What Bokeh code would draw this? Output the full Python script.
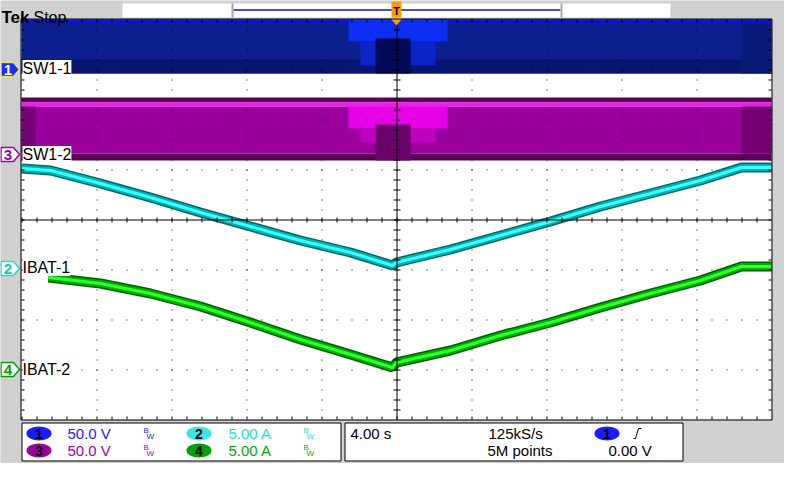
from bokeh.plotting import figure
from bokeh.models import Range1d, Label
from bokeh.embed import file_html
from bokeh.resources import INLINE

# ---------------- scope settings ----------------
SEC_PER_DIV = 4.0
CH1_V_PER_DIV = 50.0
CH2_A_PER_DIV = 5.0
CH3_V_PER_DIV = 50.0
CH4_A_PER_DIV = 5.0
ch1_pos = 3.0      # channel ground markers, divisions from centre
ch2_pos = -1.0
ch3_pos = 1.3
ch4_pos = -3.0
channel_labels = ["SW1-1", "IBAT-1", "SW1-2", "IBAT-2"]

# ---------------- data ----------------
# IBAT-1 (ch2), seconds / amps
ibat1_t = [-20.0, -18.45, -15.79, -13.12, -10.45, -7.79, -5.12, -2.45, -0.21,
           0.0, 2.88, 5.55, 8.21, 10.88, 13.55, 16.21, 18.4, 20.0]
ibat1_a = [10.1, 9.9, 8.6, 7.2, 5.7, 4.3, 2.9, 1.7, 0.4,
           0.7, 2.0, 3.4, 4.8, 6.3, 7.6, 8.9, 10.2, 10.2]
# IBAT-2 (ch4), seconds / amps
ibat2_t = [-18.56, -15.79, -13.12, -10.45, -7.79, -5.12, -2.45, -0.21,
           0.0, 2.88, 5.55, 8.21, 10.88, 13.55, 16.21, 18.4, 20.0]
ibat2_a = [9.2, 8.6, 7.6, 6.3, 4.7, 3.0, 1.5, 0.2,
           0.7, 1.9, 3.4, 4.7, 6.2, 7.6, 8.9, 10.3, 10.3]

# SW1-1 (ch1) switching envelope, intensity bands: seconds / volts
sw1_1_t0 = [-20.0, -20.0, -20.0, -2.56, -1.92, -1.12, 18.4]
sw1_1_t1 = [20.0, 20.0, 20.0, 2.72, 2.08, 0.75, 20.0]
sw1_1_vlo = [-4, -4, 46, 28, 4, -4, -4]
sw1_1_vhi = [50, 10, 50, 50, 28, 31, 46]
sw1_1_col = ["#0c1f8e", "#081672", "#0a14d0", "#0b2ef2", "#0a24c8", "#020a58", "#0a1a78"]

# SW1-2 (ch3) switching envelope, intensity bands: seconds / volts
sw1_2_t0 = [-20.0, -20.0, -20.0, -20.0, -20.0, -2.56, -1.92, -1.12, 18.4]
sw1_2_t1 = [20.0, 20.0, 20.0, 20.0, -19.25, 2.72, 2.08, 0.75, 20.0]
sw1_2_vlo = [52, 48, 1, -6, 1, 26, 12, -6, 1]
sw1_2_vhi = [57, 52, 48, 1, 48, 48, 26, 30, 48]
sw1_2_col = ["#5a0058", "#ff10ff", "#9a009c", "#5a005a", "#750078",
             "#e800e8", "#c000c0", "#6a006a", "#740074"]

# ---------------- screen geometry ----------------
CX, CY = 396, 219          # graticule centre (screen px)
PX_DIV_X, PX_DIV_Y = 75, 50
W, H = 784, 463
GRAY = "#d0d0d0"


def sx(px):
    return (px - CX) / PX_DIV_X * SEC_PER_DIV


def sy(py):
    return (CY - py) / PX_DIV_Y


p = figure(width=W, height=H, x_range=Range1d(sx(0), sx(W)),
           y_range=Range1d(sy(H), sy(0)), output_backend="svg",
           toolbar_location=None, min_border=0, outline_line_color=None,
           background_fill_color=GRAY, border_fill_color=GRAY,
           x_axis_location=None, y_axis_location=None)
p.grid.visible = False


def ch_range(pos, per_div):
    return Range1d((sy(H) - pos) * per_div, (sy(0) - pos) * per_div)


p.extra_y_ranges = {"ch1": ch_range(ch1_pos, CH1_V_PER_DIV),
                    "ch2": ch_range(ch2_pos, CH2_A_PER_DIV),
                    "ch3": ch_range(ch3_pos, CH3_V_PER_DIV),
                    "ch4": ch_range(ch4_pos, CH4_A_PER_DIV)}

FONT = "Liberation Sans"


def txt(px, py, s, color="black", size=15, bold=False, align="left",
        baseline="middle", font=FONT, bg=None):
    p.add_layout(Label(x=sx(px), y=sy(py), text=s, text_color=color,
                       text_font_size=f"{size}px", text_font=font,
                       text_font_style="bold" if bold else "normal",
                       text_align=align, text_baseline=baseline,
                       background_fill_color=bg))


# graticule background
p.quad(left=sx(21), right=sx(771), top=sy(19), bottom=sy(419),
       fill_color="white", line_color=None)

# switching envelopes
p.quad(left=sw1_1_t0, right=sw1_1_t1, bottom=sw1_1_vlo, top=sw1_1_vhi,
       fill_color=sw1_1_col, line_color=None, y_range_name="ch1")
p.quad(left=sw1_2_t0, right=sw1_2_t1, bottom=sw1_2_vlo, top=sw1_2_vhi,
       fill_color=sw1_2_col, line_color=None, y_range_name="ch3")

# dotted graticule
vx = [sx(v + 0.5) for v in (96, 171, 246, 321, 471, 546, 621, 696)]
p.segment(x0=vx, x1=vx, y0=[sy(19)] * len(vx), y1=[sy(419)] * len(vx),
          line_color="black", line_width=1, line_dash="1 9")
hy = [sy(v + 0.5) for v in (69, 119, 169, 269, 319, 369)]
p.segment(x0=[sx(21)] * len(hy), x1=[sx(771)] * len(hy), y0=hy, y1=hy,
          line_color="black", line_width=1, line_dash="1 14")

# current traces
for t, a, rng, cols in ((ibat1_t, ibat1_a, "ch2", ("#006868", "#00b4b4", "#40ffff")),
                        (ibat2_t, ibat2_a, "ch4", ("#006000", "#00b000", "#30ff30"))):
    for w, c in zip((10, 7, 3), cols):
        p.line(t, a, y_range_name=rng, line_color=c, line_width=w)

# centre lines and ticks
p.segment(x0=[sx(396.5), sx(21)], x1=[sx(396.5), sx(771)],
          y0=[sy(19), sy(219.5)], y1=[sy(419), sy(219.5)],
          line_color="black", line_width=1)
p.segment(x0=[sx(21)], x1=[sx(771)], y0=[sy(219.5)], y1=[sy(219.5)],
          line_color="black", line_width=5, line_dash="1 14")
p.segment(x0=[sx(396.5)], x1=[sx(396.5)], y0=[sy(19)], y1=[sy(419)],
          line_color="black", line_width=7, line_dash="1 9")
# border ticks
p.segment(x0=[sx(22.5), sx(769.5)], x1=[sx(22.5), sx(769.5)],
          y0=[sy(19), sy(19)], y1=[sy(419), sy(419)],
          line_color="black", line_width=3, line_dash="1 9")
p.segment(x0=[sx(21), sx(21)], x1=[sx(771), sx(771)],
          y0=[sy(20.5), sy(417.5)], y1=[sy(20.5), sy(417.5)],
          line_color="black", line_width=3, line_dash="1 14")
# border
p.quad(left=sx(20.5), right=sx(771.5), top=sy(18.5), bottom=sy(419.5),
       fill_color=None, line_color="black", line_width=1)

# channel labels inside graticule
for name, py in zip(channel_labels, (68, 267, 154, 369)):
    txt(22, py, name, size=16, bg="white")

# channel markers at left
markers = [("1", 69, "#1a2cff", "#e8e060", "white"),
           ("3", 154, "white", "#a000a0", "#a000a0"),
           ("2", 268, "white", "#20d8d8", "#10c8c8"),
           ("4", 369, "white", "#00a000", "#00a000")]
for d, m, fill, edge, tc in markers:
    p.patch(x=[sx(0.5), sx(13), sx(19), sx(13), sx(0.5)],
            y=[sy(m - 7), sy(m - 7), sy(m), sy(m + 7), sy(m + 7)],
            fill_color=fill, line_color=edge, line_width=1.5)
    txt(7.5, m + 0.5, d, color=tc, size=15, bold=True, align="center")

# trigger position marker
p.patch(x=[sx(391), sx(401), sx(396)], y=[sy(19), sy(19), sy(25)],
        fill_color="#ff9a00", line_color=None)

# ---------------- top bar ----------------
p.quad(left=sx(122), right=sx(670), top=sy(3), bottom=sy(17),
       fill_color="white", line_color=None)
p.segment(x0=[sx(233)], x1=[sx(560)], y0=[sy(9.5)], y1=[sy(9.5)],
          line_color="#1010c0", line_width=1.5)
p.quad(left=[sx(231), sx(560)], right=[sx(233), sx(562)],
       top=[sy(3), sy(3)], bottom=[sy(17), sy(17)],
       fill_color="#a8a8a8", line_color=None)
p.quad(left=sx(391), right=sx(401), top=sy(1), bottom=sy(17),
       fill_color="#ff9a00", line_color=None)
txt(396, 10, "T", size=11, bold=True, align="center")
txt(1, 16.5, "Tek", size=17, bold=True, baseline="alphabetic")
txt(33, 16.5, "Stop", size=16, baseline="alphabetic")

# ---------------- status area ----------------
p.quad(left=[sx(21.5), sx(344.5)], right=[sx(340.5), sx(682.5)],
       top=[sy(422.5), sy(422.5)], bottom=[sy(460.5), sy(460.5)],
       fill_color="white", line_color="black", line_width=1)

badges = [("1", 38.5, 433, "#1a1aff"), ("3", 38.5, 450, "#990099"),
          ("2", 198.5, 433, "#3ce6e6"), ("4", 198.5, 450, "#00a000"),
          ("1", 606.5, 433, "#1a1aff")]
for d, bx, by, c in badges:
    p.ellipse(x=[sx(bx)], y=[sy(by)], width=25 / PX_DIV_X * SEC_PER_DIV,
              height=14 / PX_DIV_Y, fill_color=c, line_color=None)
    txt(bx, by + 0.5, d, size=14, bold=True, align="center")

settings = [(67, 433, "50.0 V", "#1a1aff", 143),
            (67, 450, "50.0 V", "#aa00aa", 143),
            (228, 433, "5.00 A", "#20dcdc", 303),
            (228, 450, "5.00 A", "#00a800", 303)]
for lx, ly, s, c, bwx in settings:
    txt(lx, ly, s, color=c, size=15)
    txt(bwx, ly - 3, "B", color=c, size=8)
    txt(bwx + 3, ly + 3, "W", color=c, size=8)

txt(350, 433, "4.00 s", size=15)
txt(488, 433, "125kS/s", size=15)
txt(487, 450, "5M points", size=15)
txt(608, 450, "0.00 V", size=15)
p.line(x=[sx(633), sx(635), sx(638), sx(641)],
       y=[sy(438), sy(438), sy(428), sy(428)], line_color="black", line_width=1)

open("out.html", "w").write(file_html(p, INLINE))
